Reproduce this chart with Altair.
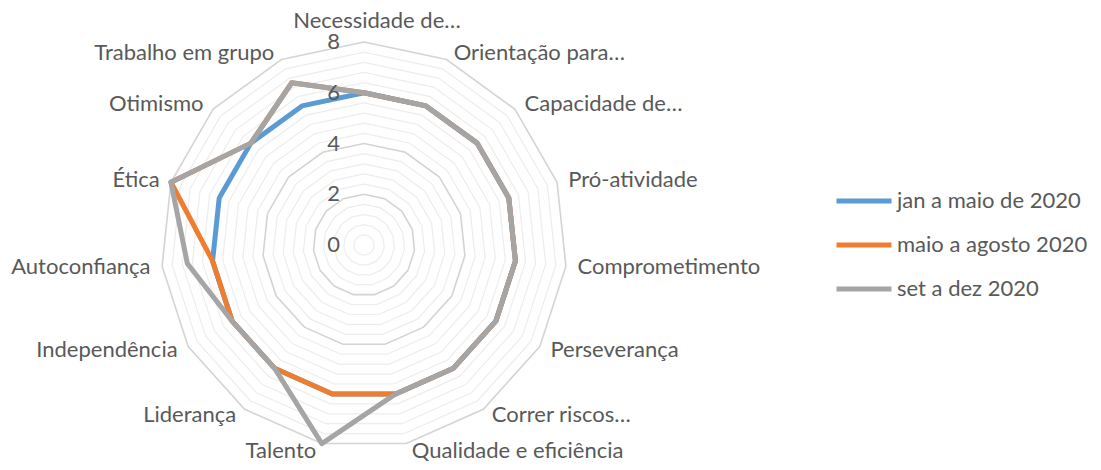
import math
import altair as alt
import pandas as pd

# ---------------- data ----------------
categories = [
    "Necessidade de…", "Orientação para…", "Capacidade de…", "Pró-atividade",
    "Comprometimento", "Perseverança", "Correr riscos…", "Qualidade e eficiência",
    "Talento", "Liderança", "Independência", "Autoconfiança", "Ética",
    "Otimismo", "Trabalho em grupo",
]
series_names = ["jan a maio de 2020", "maio a agosto 2020", "set a dez 2020"]
jan_maio = [6, 6, 6, 6, 6, 6, 6, 6, 6, 6, 6, 6, 6, 6, 6]
maio_agosto = [6, 6, 6, 6, 6, 6, 6, 6, 6, 6, 6, 6, 8, 6, 7]
set_dez = [6, 6, 6, 6, 6, 6, 6, 6, 8, 6, 6, 7, 8, 6, 7]
series_colors = ["#5B9BD5", "#ED7D31", "#A5A5A5"]

major_ticks = [0, 2, 4, 6, 8]
minor_rings = [0.4, 0.8, 1.2, 1.6, 2.4, 2.8, 3.2, 3.6, 4.4, 4.8, 5.2, 5.6,
               6.4, 6.8, 7.2, 7.6]
major_rings = [2, 4, 6, 8]

N = len(categories)
TEXT = "#595959"
FONT = "Lato"
FS = 22

# ---------------- tables ----------------
rows = []
for name, vals in zip(series_names, [jan_maio, maio_agosto, set_dez]):
    for i in range(N + 1):
        rows.append({"serie": name, "idx": i, "value": vals[i % N]})
series_df = pd.DataFrame(rows)

def ring_df(rings):
    return pd.DataFrame([{"ring": r, "idx": i, "value": r}
                         for r in rings for i in range(N + 1)])

labels_df = pd.DataFrame({"cat": categories, "idx": list(range(N))})
ticks_df = pd.DataFrame({"tick": major_ticks})

# ---------------- scales ----------------
W, H = 1085, 454
cx, cy = 356, 237          # plot-area position of the centre
ppu = 203 / 8              # pixels per unit
xs = alt.Scale(domain=[-cx / ppu, (W - cx) / ppu], nice=False, zero=False)
ys = alt.Scale(domain=[-(H - cy) / ppu, cy / ppu], nice=False, zero=False)

ANG = f"datum.idx * 2 * PI / {N}"

def polar(chart, rfield="datum.value"):
    return chart.transform_calculate(
        px=f"{rfield} * sin({ANG})",
        py=f"{rfield} * cos({ANG})",
    )

X = alt.X("px:Q", scale=xs, axis=None)
Y = alt.Y("py:Q", scale=ys, axis=None)

minor = polar(alt.Chart(ring_df(minor_rings)).mark_line(
    color="#EDEDED", strokeWidth=1.2)).encode(
    x=X, y=Y, detail="ring:N", order="idx:Q")
major = polar(alt.Chart(ring_df(major_rings)).mark_line(
    color="#D4D4D4", strokeWidth=1.6)).encode(
    x=X, y=Y, detail="ring:N", order="idx:Q")

lines = polar(alt.Chart(series_df).mark_line(
    strokeWidth=5, strokeJoin="round")).encode(
    x=X, y=Y, order="idx:Q",
    color=alt.Color("serie:N",
                    scale=alt.Scale(domain=series_names, range=series_colors),
                    sort=series_names,
                    legend=alt.Legend(
                        title=None, orient="none", legendX=845, legendY=182,
                        symbolType="M-5,0H5", symbolSize=121,
                        symbolStrokeWidth=5, labelFontSize=FS, labelLimit=0,
                        labelColor=TEXT, labelFont=FONT, labelOffset=22,
                        rowPadding=22, padding=0)),
)

LR = 8.3
lab_top = polar(alt.Chart(labels_df).transform_filter("datum.idx == 0").mark_text(
    align="center", baseline="middle", dx=13, dy=-13, fontSize=FS, font=FONT, color=TEXT),
    rfield=str(LR)).encode(x=X, y=Y, text="cat:N")
lab_right = polar(alt.Chart(labels_df).transform_filter(
    f"datum.idx > 0 && datum.idx < {N / 2}").mark_text(
    align="left", baseline="middle", dx=4, fontSize=FS, font=FONT, color=TEXT),
    rfield=str(LR)).encode(x=X, y=Y, text="cat:N")
lab_left = polar(alt.Chart(labels_df).transform_filter(
    f"datum.idx > {N / 2}").mark_text(
    align="right", baseline="middle", dx=-4, fontSize=FS, font=FONT, color=TEXT),
    rfield=str(LR)).encode(x=X, y=Y, text="cat:N")

tick_labels = alt.Chart(ticks_df).transform_calculate(px="0", py="datum.tick").mark_text(
    align="right", baseline="middle", dx=-24, fontSize=FS, font=FONT, color=TEXT
).encode(x=X, y=Y, text="tick:Q")

chart = alt.layer(minor, major, lines, lab_top, lab_right, lab_left, tick_labels).properties(
    width=W, height=H, padding=0, autosize=alt.AutoSizeParams(type="none"),
).configure_view(stroke=None)

chart.save("out.html", embed_options={"renderer": "svg", "actions": False})
